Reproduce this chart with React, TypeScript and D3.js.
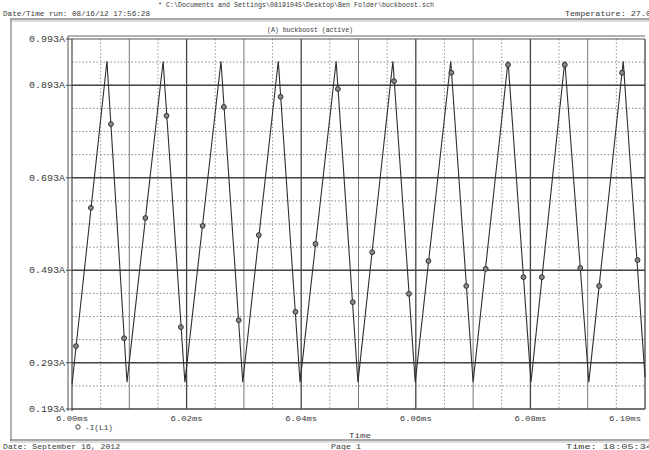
import React from "react";
import * as d3 from "d3";

// ---- data ----
const waveTimes = [6.0000, 6.0061, 6.0096, 6.0159, 6.0197, 6.0260, 6.0298, 6.0360, 6.0398, 6.0461, 6.0499, 6.0560, 6.0599, 6.0661, 6.0700, 6.0761, 6.0801, 6.0860, 6.0902, 6.0962, 6.1000];
const waveValues = [0.246, 0.945, 0.251, 0.945, 0.251, 0.945, 0.251, 0.945, 0.251, 0.945, 0.251, 0.945, 0.251, 0.945, 0.251, 0.945, 0.251, 0.945, 0.251, 0.945, 0.262];

const markerTimes = [6.0007, 6.0033, 6.0068, 6.0091, 6.0128, 6.0165, 6.0190, 6.0228, 6.0265, 6.0291, 6.0326, 6.0364, 6.0390, 6.0425, 6.0464, 6.0490, 6.0524, 6.0562, 6.0588, 6.0622, 6.0662, 6.0688, 6.0722, 6.0761, 6.0788, 6.0820, 6.0860, 6.0887, 6.0920, 6.0960, 6.0987];
const markerValues = [0.329, 0.628, 0.809, 0.346, 0.606, 0.827, 0.370, 0.589, 0.846, 0.385, 0.569, 0.868, 0.403, 0.550, 0.885, 0.424, 0.532, 0.902, 0.442, 0.513, 0.920, 0.459, 0.496, 0.937, 0.478, 0.478, 0.937, 0.498, 0.459, 0.920, 0.515];

const yTickValues = [0.193, 0.293, 0.493, 0.693, 0.893, 0.993];
const yTickLabels = ["0.193A", "0.293A", "0.493A", "0.693A", "0.893A", "0.993A"];
const xTickValues = [6.00, 6.02, 6.04, 6.06, 6.08, 6.10];
const xTickLabels = ["6.00ms", "6.02ms", "6.04ms", "6.06ms", "6.08ms", "6.10ms"];

const W = 649, H = 450;
const L = 72, R = 645, T = 39, B = 409;
const FONT = "'Liberation Mono', 'DejaVu Sans Mono', monospace";
const TXT = "#3a3a3a";

export default function App() {
  const x = d3.scaleLinear().domain([6.0, 6.1]).range([L, R]);
  const y = d3.scaleLinear().domain([0.193, 0.993]).range([B, T]);

  const line = d3.line<number>().x((_, i) => x(waveTimes[i])).y((v) => y(v));

  const yMinor = d3.range(0, 16).map((k) => 0.193 + 0.05 * k).filter((v) => v > 0.2 && v < 0.98);
  const xGrid = d3.range(1, 20).map((k) => 6.0 + 0.005 * k);

  return (
    <svg width={W} height={H} style={{ position: "absolute", left: 0, top: 0, background: "#fff" }}>
      <rect x={0} y={0} width={W} height={H} fill="#fff" />
      {/* header */}
      <text x={158} y={7} fontFamily={FONT} fontSize={7.5} fill={TXT} textLength={276} lengthAdjust="spacingAndGlyphs">
        {"* C:\\Documents and Settings\\08191045\\Desktop\\Ben Folder\\buckboost.sch"}
      </text>
      <text x={3} y={16} fontFamily={FONT} fontSize={8} fill={TXT} textLength={147} lengthAdjust="spacingAndGlyphs">
        Date/Time run: 08/16/12 17:56:28
      </text>
      <text x={565} y={16} fontFamily={FONT} fontSize={8} fill={TXT} textLength={86} lengthAdjust="spacingAndGlyphs">
        Temperature: 27.0
      </text>
      {/* page frame */}
      <line x1={10} x2={W} y1={19} y2={19} stroke="#888" strokeWidth={1.5} />
      <line x1={10} x2={W} y1={21} y2={21} stroke="#bbb" strokeWidth={1} />
      <line x1={11} x2={11} y1={19} y2={441} stroke="#999" strokeWidth={1.5} />
      <line x1={10} x2={W} y1={440} y2={440} stroke="#888" strokeWidth={1.5} />
      <line x1={10} x2={W} y1={442} y2={442} stroke="#bbb" strokeWidth={1} />

      {/* title */}
      <text x={310} y={32} textAnchor="middle" fontFamily={FONT} fontSize={8} fill={TXT} textLength={86} lengthAdjust="spacingAndGlyphs">
        (A) buckboost (active)
      </text>

      {/* minor horizontal grid */}
      {yMinor.map((v, i) => (
        <line key={"ym" + i} x1={L} x2={R} y1={y(v)} y2={y(v)} stroke="#8a8a8a" strokeWidth={1} strokeDasharray="1.5,2" />
      ))}
      {/* vertical grid */}
      {xGrid.map((v, i) => {
        const k = i + 1;
        const major = k % 4 === 0;
        const mid = k % 2 === 0 && !major;
        return (
          <line key={"xg" + i} x1={x(v)} x2={x(v)} y1={T} y2={B}
            stroke={major ? "#444" : mid ? "#777" : "#999"}
            strokeWidth={major ? 1.3 : 1}
            strokeDasharray={major || mid ? undefined : "1.5,2"} />
        );
      })}
      {/* major horizontal grid */}
      {yTickValues.slice(1, -1).map((v, i) => (
        <line key={"yM" + i} x1={L} x2={R} y1={y(v)} y2={y(v)} stroke="#444" strokeWidth={1.3} />
      ))}
      {/* plot border */}
      <line x1={L} x2={R} y1={B} y2={B} stroke="#444" strokeWidth={1.3} />
      <line x1={L - 4} x2={R} y1={T - 3} y2={T - 3} stroke="#666" strokeWidth={1} />
      <line x1={L} x2={R} y1={T} y2={T} stroke="#555" strokeWidth={1} />
      <line x1={L - 4} x2={L - 4} y1={T - 3} y2={B + 2} stroke="#555" strokeWidth={1} />
      <line x1={L} x2={L} y1={T} y2={B + 2} stroke="#444" strokeWidth={1.2} />
      <line x1={R} x2={R} y1={T} y2={B} stroke="#444" strokeWidth={1.3} />

      {/* y tick labels */}
      {yTickValues.map((v, i) => (
        <g key={"yt" + i}>
          <line x1={L - 6} x2={L} y1={y(v)} y2={y(v)} stroke="#444" />
          <text x={65} y={y(v) + 3} textAnchor="end" fontFamily={FONT} fontSize={8.5} fill={TXT} textLength={36} lengthAdjust="spacingAndGlyphs">
            {yTickLabels[i]}
          </text>
        </g>
      ))}
      {/* x tick labels */}
      {xTickValues.map((v, i) => (
        <text key={"xt" + i} x={Math.min(x(v), 625)} y={421} textAnchor="middle" fontFamily={FONT} fontSize={8} fill={TXT} textLength={32} lengthAdjust="spacingAndGlyphs">
          {xTickLabels[i]}
        </text>
      ))}

      {/* trace */}
      <path d={line(waveValues) || ""} fill="none" stroke="#2e2e2e" strokeWidth={1.1} />
      {markerValues.map((v, i) => (
        <circle key={"m" + i} cx={x(markerTimes[i])} cy={y(v)} r={2.4} fill="#8a8a8a" stroke="#2e2e2e" strokeWidth={1} />
      ))}

      {/* legend */}
      <circle cx={78} cy={427} r={2.2} fill="#fff" stroke="#444" strokeWidth={1} />
      <text x={85} y={430} fontFamily={FONT} fontSize={8} fill={TXT} textLength={28} lengthAdjust="spacingAndGlyphs">-I(L1)</text>

      {/* axis title */}
      <text x={360} y={438} textAnchor="middle" fontFamily={FONT} fontSize={8} fill={TXT} textLength={22} lengthAdjust="spacingAndGlyphs">Time</text>

      {/* footer */}
      <text x={3} y={449} fontFamily={FONT} fontSize={8} fill={TXT} textLength={117} lengthAdjust="spacingAndGlyphs">Date: September 16, 2012</text>
      <text x={331} y={449} fontFamily={FONT} fontSize={8} fill={TXT} textLength={30} lengthAdjust="spacingAndGlyphs">Page 1</text>
      <text x={566} y={449} fontFamily={FONT} fontSize={8} fill={TXT} textLength={86} lengthAdjust="spacingAndGlyphs">Time:  18:05:34</text>
    </svg>
  );
}
